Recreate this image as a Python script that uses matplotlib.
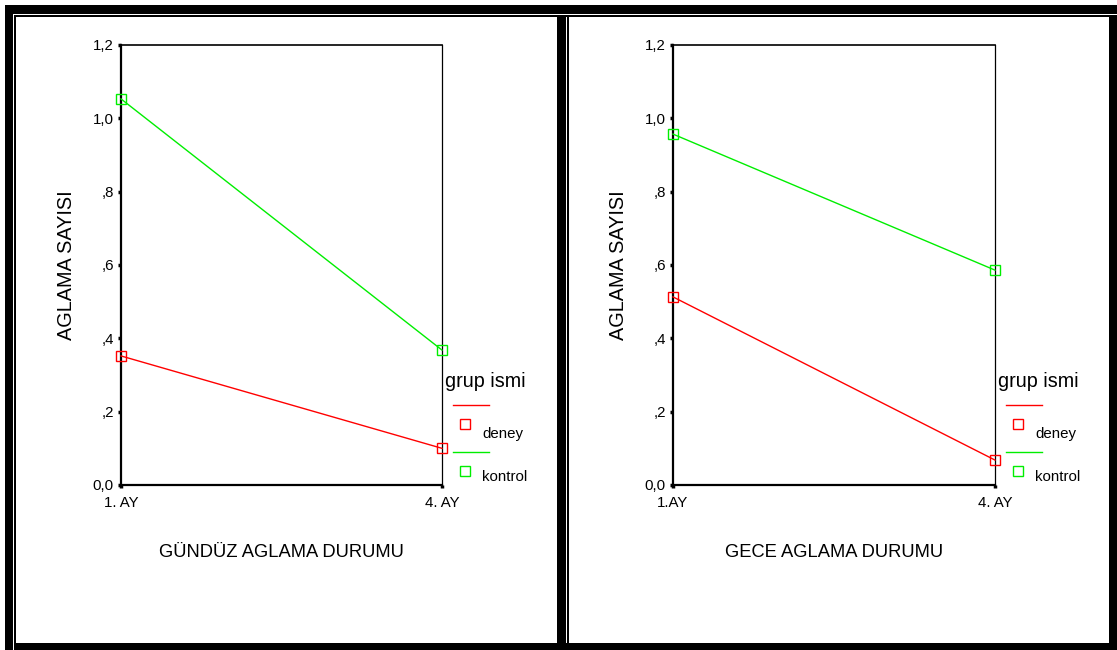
import matplotlib
matplotlib.use("Agg")
import matplotlib.pyplot as plt
from matplotlib.patches import Rectangle
from matplotlib.lines import Line2D

plt.rcParams['font.family'] = ['Liberation Sans', 'DejaVu Sans']

# data
months_left = ["1. AY", "4. AY"]
months_right = ["1.AY", "4. AY"]
gunduz_deney = [0.352, 0.100]
gunduz_kontrol = [1.053, 0.368]
gece_deney = [0.513, 0.068]
gece_kontrol = [0.957, 0.586]
yticks = [0.0, 0.2, 0.4, 0.6, 0.8, 1.0, 1.2]
ytick_labels = ["0,0", ",2", ",4", ",6", ",8", "1,0", "1,2"]
groups = ["deney", "kontrol"]
colors = ["#ff0000", "#00ee00"]

W, H = 1117, 650
fig = plt.figure(figsize=(W / 100, H / 100), dpi=100)
fig.patch.set_facecolor("white")


def px_rect(x0, y0, x1, y1):
    # rectangle given in pixel coords (y from top)
    fig.patches.append(Rectangle((x0 / W, 1 - y1 / H), (x1 - x0) / W, (y1 - y0) / H,
                                 transform=fig.transFigure, facecolor="black",
                                 edgecolor="none", zorder=0))


# frame around the two panels
px_rect(5, 5, 1117, 14)      # top band
px_rect(5, 5, 13, 650)       # left band
px_rect(14, 15, 1109, 17)    # thin top line
px_rect(14, 15, 16, 643)     # thin left line
px_rect(557, 15, 566, 650)   # middle band
px_rect(567, 15, 569, 643)   # thin line right panel
px_rect(1109, 15, 1117, 650) # right band
px_rect(14, 643, 1117, 650)  # bottom band


def panel(left_px, right_px, deney, kontrol, xlabels, title):
    ax = fig.add_axes([left_px / W, (H - 485) / H, (right_px - left_px) / W, 440 / H])
    x = [0, 1]
    for vals, c in zip([deney, kontrol], colors):
        ax.plot(x, vals, color=c, lw=1.0, marker="s", markersize=6.5,
                markerfacecolor="none", markeredgecolor=c, markeredgewidth=1.0,
                clip_on=False, zorder=3)
    ax.set_xlim(0, 1)
    ax.set_ylim(0, 1.2)
    ax.set_yticks(yticks)
    ax.set_yticklabels(ytick_labels)
    ax.set_xticks(x)
    ax.set_xticklabels(xlabels)
    ax.tick_params(axis="y", length=2.2, width=2.5, pad=3, labelsize=10.8)
    ax.tick_params(axis="x", length=2.2, width=2.5, pad=6, labelsize=10.8)
    ax.spines["left"].set_linewidth(1.6)
    ax.spines["bottom"].set_linewidth(1.6)
    ax.spines["top"].set_linewidth(1.2)
    ax.spines["right"].set_linewidth(0.9)
    ax.set_ylabel("AGLAMA SAYISI", fontsize=14.3, labelpad=12)
    ax.set_xlabel(title, fontsize=13.2, labelpad=24)

    # SPSS style legend beside the plot
    fx = 1.0 / (right_px - left_px)   # one pixel in axes fraction (x)
    ax.text(1 + 3 * fx, 0.235, "grup ismi", transform=ax.transAxes,
            fontsize=14.2, va="center", ha="left")
    rows = [(0.1825, 0.139, 0.117), (0.0757, 0.0325, 0.019)]
    for (ly, sy, ty), c, g in zip(rows, colors, groups):
        ax.add_line(Line2D([1 + 11 * fx, 1 + 47 * fx], [ly, ly], color=c, lw=1.0,
                           transform=ax.transAxes, clip_on=False))
        ax.add_line(Line2D([1 + 23 * fx], [sy], marker="s", markersize=6.5,
                           markerfacecolor="none", markeredgecolor=c,
                           markeredgewidth=1.0, transform=ax.transAxes, clip_on=False))
        ax.text(1 + 40 * fx, ty, g, transform=ax.transAxes, fontsize=10.8,
                va="center", ha="left")
    return ax


panel(121, 442, gunduz_deney, gunduz_kontrol, months_left, "GÜNDÜZ AGLAMA DURUMU")
panel(673, 995, gece_deney, gece_kontrol, months_right, "GECE AGLAMA DURUMU")

fig.savefig("out.png", dpi=100)
